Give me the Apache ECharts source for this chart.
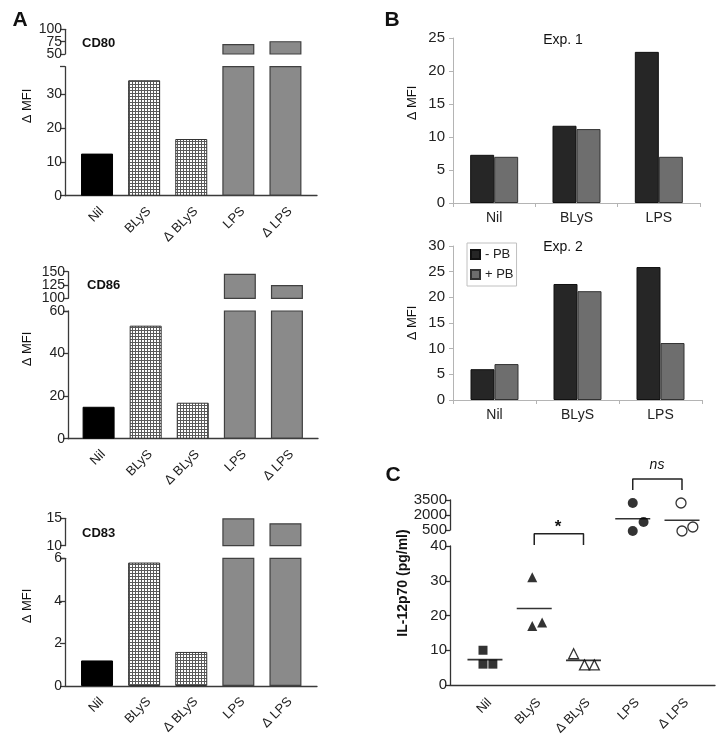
<!DOCTYPE html>
<html><head><meta charset="utf-8">
<script src="https://cdn.jsdelivr.net/npm/echarts@6/dist/echarts.min.js"></script>
<style>html,body{margin:0;padding:0;background:#fff}#c{width:728px;height:740px}</style>
</head><body><div id="c"></div>
<script>
// ---------- DATA ----------
const catsA = ['Nil', 'BLyS', 'Δ BLyS', 'LPS', 'Δ LPS'];
const cd80 = [12.4, 34.0, 16.7, 70, 76];
const cd86 = [15.0, 53.1, 16.9, 146, 125];
const cd83 = [1.2, 5.8, 1.6, 15.0, 14.1];
const cd80LowTicks = [0, 10, 20, 30];
const cd80UpTicks = [50, 75, 100];
const cd86LowTicks = [0, 20, 40, 60];
const cd86UpTicks = [100, 125, 150];
const cd83LowTicks = [0, 2, 4, 6];
const cd83UpTicks = [10, 15];

const catsB = ['Nil', 'BLyS', 'LPS'];
const legendB = ['- PB', '+ PB'];
const exp1Minus = [7.3, 11.7, 22.9];
const exp1Plus = [7.0, 11.2, 7.0];
const exp2Minus = [6.0, 22.6, 25.9];
const exp2Plus = [7.0, 21.2, 11.1];

const catsC = ['Nil', 'BLyS', 'Δ BLyS', 'LPS', 'Δ LPS'];
const ilNil = [10, 6, 6];
const ilBLyS = [31, 17, 18];
const ilDBLyS = [9, 5.8, 5.8];
const ilLPS = [3200, 1300, 400];
const ilDLPS = [3200, 400, 800];
const jitterC = [[-0.04, -0.04, 0.16], [-0.04, -0.04, 0.16], [-0.2, 0.02, 0.22], [0, 0.22, 0], [-0.02, 0, 0.22]];
const meansC = [7.3, 22, 7.1, 1630, 1470];
const cLowTicks = [0, 10, 20, 30, 40];
const cUpTicks = [500, 2000, 3500];

// ---------- BUILD ----------
const FONT = '"Liberation Sans", Arial, Helvetica, sans-serif';
const chart = echarts.init(document.getElementById('c'), null, { renderer: 'canvas' });

function makePattern() {
  const c = document.createElement('canvas'); c.width = 3; c.height = 3;
  const g = c.getContext('2d');
  g.fillStyle = '#ffffff'; g.fillRect(0, 0, 3, 3);
  g.fillStyle = '#5a5a5a'; g.fillRect(0, 0, 3, 1); g.fillRect(0, 0, 1, 3);
  return c;
}
const pat = { image: makePattern(), repeat: 'repeat' };
const styleA = [
  { color: '#000000', borderColor: '#000000', borderWidth: 1 },
  { color: pat, borderColor: '#333333', borderWidth: 1 },
  { color: pat, borderColor: '#333333', borderWidth: 1 },
  { color: '#8a8a8a', borderColor: '#404040', borderWidth: 1.2 },
  { color: '#8a8a8a', borderColor: '#404040', borderWidth: 1.2 }
];

const grids = [], xAxes = [], yAxes = [], series = [];
function addGrid(g) { grids.push(Object.assign({ outerBoundsMode: 'none', containLabel: false }, g)); return grids.length - 1; }

const axA = { color: '#3a3a3a', width: 1.3 };
function yAxisDef(gi, min, max, ticks, tickVals, fs, lineStyle) {
  return {
    gridIndex: gi, type: 'value', min: min, max: max, position: 'left', offset: 0,
    axisLine: { show: true, lineStyle: lineStyle },
    axisTick: { show: true, length: 5, customValues: tickVals, lineStyle: lineStyle },
    axisLabel: { customValues: ticks, fontSize: fs, color: '#222', fontFamily: FONT, margin: 3,
      showMinLabel: true, showMaxLabel: true, hideOverlap: false, formatter: v => String(v) },
    splitLine: { show: false }
  };
}
// broken-axis upper segment: extent labels on one axis, inner labels on a twin axis (avoids auto-hiding)
function addUpperY(gi, ticks, fs, lineStyle) {
  const ends = [ticks[0], ticks[ticks.length - 1]];
  yAxes.push(yAxisDef(gi, ends[0], ends[1], ends, ticks, fs, lineStyle));
  const idx = yAxes.length - 1;
  const mids = ticks.slice(1, -1);
  if (mids.length) {
    const twin = yAxisDef(gi, ends[0], ends[1], mids, mids, fs, lineStyle);
    twin.axisLine = { show: false }; twin.axisTick = { show: false };
    yAxes.push(twin);
  }
  return idx;
}
function xLabel(cats, margin) {
  return { customValues: [1, 2, 3, 4, 5], formatter: v => cats[Math.round(v) - 1] || '',
    rotate: 45, fontSize: 13, color: '#222', fontFamily: FONT, margin: margin,
    align: 'right', verticalAlign: 'top', hideOverlap: false, showMinLabel: true, showMaxLabel: true };
}

function panelA(values, c) {
  const gu = addGrid({ left: c.left, top: c.upTop, width: c.width, height: c.upH });
  const gl = addGrid({ left: c.left, top: c.loTop, width: c.width, height: c.loH });
  xAxes.push({ gridIndex: gu, type: 'value', min: c.xmin, max: c.xmax, show: false });
  const xu = xAxes.length - 1;
  xAxes.push({
    gridIndex: gl, type: 'value', min: c.xmin, max: c.xmax,
    axisLine: { show: true, onZero: false, lineStyle: axA },
    axisTick: { show: false }, splitLine: { show: false },
    axisLabel: xLabel(catsA, 9)
  });
  const xl = xAxes.length - 1;
  const yu = addUpperY(gu, c.upTicks, 14, axA);
  yAxes.push(yAxisDef(gl, 0, c.loMax, c.loTicks, c.loTicks.concat([c.loMax]), 14, axA));
  const yl = yAxes.length - 1;
  const data = values.map((v, i) => ({ value: [i + 1, v], itemStyle: styleA[i] }));
  series.push({ type: 'bar', xAxisIndex: xu, yAxisIndex: yu, barWidth: 32, clip: true, data: data, animation: false });
  series.push({ type: 'bar', xAxisIndex: xl, yAxisIndex: yl, barWidth: 32, clip: true, data: data, animation: false });
}

panelA(cd80, { left: 65, width: 252, xmin: 0.32, xmax: 5.67, upTop: 29.3, upH: 24.7, upTicks: cd80UpTicks,
  loTop: 66.7, loH: 129, loMax: 38, loTicks: cd80LowTicks });
panelA(cd86, { left: 68, width: 250, xmin: 0.35, xmax: 5.66, upTop: 271.7, upH: 26.6, upTicks: cd86UpTicks,
  loTop: 311, loH: 127.7, loMax: 60, loTicks: cd86LowTicks });
panelA(cd83, { left: 65, width: 252, xmin: 0.32, xmax: 5.67, upTop: 518.3, upH: 27.4, upTicks: cd83UpTicks,
  loTop: 558.3, loH: 127.7, loMax: 6, loTicks: cd83LowTicks });

// Panel B
const axB = { color: '#b4b4b4', width: 1 };
function panelB(minus, plus, c) {
  const g = addGrid({ left: 453, top: c.top, width: c.width, height: c.height });
  xAxes.push({ gridIndex: g, type: 'category', data: catsB,
    axisLine: { show: true, lineStyle: axB }, axisTick: { show: true, length: 4, lineStyle: axB },
    axisLabel: { fontSize: 14, color: '#222', fontFamily: FONT, margin: 8 } });
  const xi = xAxes.length - 1;
  yAxes.push({ gridIndex: g, type: 'value', min: 0, max: c.max, interval: 5,
    axisLine: { show: true, lineStyle: axB }, axisTick: { show: true, length: 4, lineStyle: axB },
    axisLabel: { fontSize: 15, color: '#222', fontFamily: FONT, margin: 8, showMinLabel: true, showMaxLabel: true },
    splitLine: { show: false } });
  const yi = yAxes.length - 1;
  series.push({ type: 'bar', name: legendB[0], xAxisIndex: xi, yAxisIndex: yi, barWidth: 24, barGap: '0%',
    itemStyle: { color: '#262626', borderColor: '#111', borderWidth: 1 }, data: minus, animation: false });
  series.push({ type: 'bar', name: legendB[1], xAxisIndex: xi, yAxisIndex: yi, barWidth: 24, barGap: '0%',
    itemStyle: { color: '#6e6e6e', borderColor: '#333', borderWidth: 1 }, data: plus, animation: false });
}
panelB(exp1Minus, exp1Plus, { top: 38, width: 247, height: 165, max: 25 });
panelB(exp2Minus, exp2Plus, { top: 246, width: 249, height: 154, max: 30 });

// Panel C
const axC = { color: '#333', width: 1.3 };
const gcu = addGrid({ left: 450, top: 500, width: 265, height: 30 });
const gcl = addGrid({ left: 450, top: 546, width: 265, height: 139 });
xAxes.push({ gridIndex: gcu, type: 'value', min: 0.29, max: 5.67, show: false });
const xcu = xAxes.length - 1;
xAxes.push({ gridIndex: gcl, type: 'value', min: 0.29, max: 5.67,
  axisLine: { show: true, onZero: false, lineStyle: axC }, axisTick: { show: false }, splitLine: { show: false },
  axisLabel: xLabel(catsC, 11) });
const xcl = xAxes.length - 1;
const ycu = addUpperY(gcu, cUpTicks, 15, axC);
yAxes.push(yAxisDef(gcl, 0, 40, cLowTicks, cLowTicks, 15, axC));
const ycl = yAxes.length - 1;

const groupsC = [
  { vals: ilNil, sym: 'rect', size: 9, open: false, up: false },
  { vals: ilBLyS, sym: 'triangle', size: 10, open: false, up: false },
  { vals: ilDBLyS, sym: 'triangle', size: 10, open: true, up: false },
  { vals: ilLPS, sym: 'circle', size: 10, open: false, up: true },
  { vals: ilDLPS, sym: 'circle', size: 10, open: true, up: true }
];
groupsC.forEach((g, gi) => {
  const xa = g.up ? xcu : xcl, ya = g.up ? ycu : ycl;
  series.push({ type: 'scatter', xAxisIndex: xa, yAxisIndex: ya, symbol: g.sym, symbolSize: g.size, clip: false,
    itemStyle: g.open ? { color: '#fff', borderColor: '#000', borderWidth: 1.3 } : { color: '#000' },
    data: g.vals.map((v, i) => [gi + 1 + jitterC[gi][i], v]), animation: false, z: 3 });
  series.push({ type: 'scatter', xAxisIndex: xa, yAxisIndex: ya, symbol: 'rect', symbolSize: [35, 1.6], clip: false,
    itemStyle: { color: '#000' }, data: [[gi + 1, meansC[gi]]], animation: false, z: 2 });
});
// significance brackets (in data units)
series.push({ type: 'line', xAxisIndex: xcl, yAxisIndex: ycl, clip: false, symbol: 'none', animation: false,
  lineStyle: { color: '#222', width: 1.5 }, data: [[2, 40.3], [2, 43.5], [3, 43.5], [3, 40.3]] });
series.push({ type: 'line', xAxisIndex: xcu, yAxisIndex: ycu, clip: false, symbol: 'none', animation: false,
  lineStyle: { color: '#222', width: 1.5 }, data: [[4, 4500], [4, 5600], [5, 5600], [5, 4500]] });

function txt(x, y, text, font, opts) {
  return Object.assign({ type: 'text', x: x, y: y, silent: true,
    style: { text: text, font: font, fill: '#111', align: 'center', verticalAlign: 'middle' } }, opts || {});
}
const R = Math.PI / 2;
const graphic = [
  txt(20, 20, 'A', 'bold 21px ' + FONT),
  txt(392, 20, 'B', 'bold 21px ' + FONT),
  txt(393, 475, 'C', 'bold 21px ' + FONT),
  { type: 'text', x: 82, y: 43, style: { text: 'CD80', font: 'bold 13px ' + FONT, fill: '#111', align: 'left', verticalAlign: 'middle' } },
  { type: 'text', x: 87, y: 285, style: { text: 'CD86', font: 'bold 13px ' + FONT, fill: '#111', align: 'left', verticalAlign: 'middle' } },
  { type: 'text', x: 82, y: 533, style: { text: 'CD83', font: 'bold 13px ' + FONT, fill: '#111', align: 'left', verticalAlign: 'middle' } },
  txt(27, 106, 'Δ MFI', '13px ' + FONT, { rotation: R }),
  txt(27, 349, 'Δ MFI', '13px ' + FONT, { rotation: R }),
  txt(27, 606, 'Δ MFI', '13px ' + FONT, { rotation: R }),
  txt(412, 103, 'Δ MFI', '13px ' + FONT, { rotation: R }),
  txt(412, 323, 'Δ MFI', '13px ' + FONT, { rotation: R }),
  txt(563, 40, 'Exp. 1', '14px ' + FONT),
  txt(563, 247, 'Exp. 2', '14px ' + FONT),
  txt(403, 583, 'IL-12p70 (pg/ml)', 'bold 14px ' + FONT, { rotation: R }),
  txt(558, 527, '*', 'bold 17px ' + FONT),
  txt(657, 465, 'ns', 'italic 14px ' + FONT)
];

chart.setOption({
  animation: false,
  backgroundColor: '#ffffff',
  textStyle: { fontFamily: FONT },
  grid: grids, xAxis: xAxes, yAxis: yAxes, series: series,
  legend: { data: legendB, left: 467, top: 243, orient: 'vertical', itemWidth: 9, itemHeight: 9, itemGap: 7,
    padding: [5, 3, 5, 3], borderColor: '#c0c0c0', borderWidth: 1, icon: 'rect',
    textStyle: { fontSize: 13, color: '#222', fontFamily: FONT }, selectedMode: false },
  graphic: graphic
});
</script></body></html>
